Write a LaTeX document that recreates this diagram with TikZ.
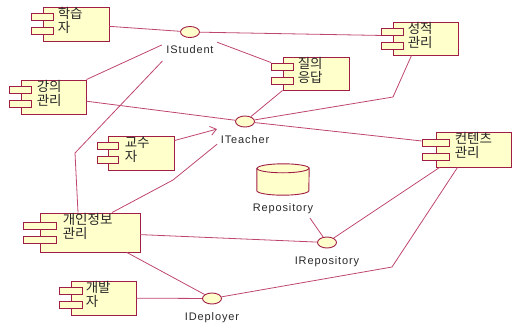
\documentclass[tikz,border=0pt]{standalone}
\usepackage{fontspec}
\setmainfont{Liberation Sans}
\newfontfamily\kr{Noto Sans CJK KR}
\usetikzlibrary{shapes.geometric,arrows.meta,positioning}

\definecolor{compfill}{RGB}{255,255,204}
\definecolor{compline}{RGB}{160,30,70}
\definecolor{connline}{RGB}{190,70,110}
\definecolor{txtcol}{RGB}{40,40,40}

\begin{document}
\begin{tikzpicture}[
    x=1pt, y=-1pt,
    comp/.style={rectangle, draw=compline, fill=compfill, line width=0.9pt, inner sep=0pt},
    comptab/.style={rectangle, draw=compline, fill=compfill, line width=0.9pt, inner sep=0pt, minimum height=7pt},
    comptext/.style={anchor=north west, inner sep=0pt, align=left, text=txtcol, font=\kr\fontsize{13.5}{14}\selectfont},
    iface/.style={ellipse, draw=compline, fill=compfill, line width=0.9pt, inner sep=0pt, minimum width=19pt, minimum height=11pt},
    ifacelabel/.style={inner sep=0pt, text height=8pt, text depth=2.5pt, text=txtcol, font=\fontsize{11}{13}\selectfont\addfontfeature{LetterSpace=8}},
    repobox/.style={rectangle, inner sep=0pt, minimum width=52pt, minimum height=31pt},
    cyl/.style={draw=compline, fill=compfill, line width=0.9pt},
    conn/.style={draw=connline, line width=0.8pt},
    arrow/.style={conn, -{Straight Barb[length=6pt,width=9pt]}}
]
\useasboundingbox (0,0) rectangle (514,327);

% Components
\node[comp, minimum width=66pt, minimum height=34pt] (student) at (76,24) {};
\node[comp, minimum width=65pt, minimum height=34pt] (lecture) at (53.5,97) {};
\node[comp, minimum width=65pt, minimum height=33pt] (grade) at (425.5,38.5) {};
\node[comp, minimum width=66pt, minimum height=33pt] (qna) at (316,73.5) {};
\node[comp, minimum width=66pt, minimum height=34pt] (prof) at (141,153) {};
\node[comp, minimum width=75pt, minimum height=35pt] (content) at (473.5,149.5) {};
\node[comp, minimum width=100pt, minimum height=39pt] (personal) at (90,232.5) {};
\node[comp, minimum width=65pt, minimum height=34pt] (dev) at (103.5,298) {};

% Component tabs
\foreach \n/\w in {student/22, lecture/22, grade/22, qna/22, prof/21, content/27, personal/33, dev/23} {
  \node[comptab, minimum width=\w pt] (\n-t1) at ([yshift=7pt]\n.west) {};
  \node[comptab, minimum width=\w pt] (\n-t2) at ([yshift=-7pt]\n.west) {};
}

% Component names
\node[comptext] (student-txt) at ([xshift=15pt,yshift=-1pt]student.north west) {학습\\자};
\node[comptext] (lecture-txt) at ([xshift=16pt,yshift=-1pt]lecture.north west) {강의\\관리};
\node[comptext] (grade-txt) at ([xshift=15pt,yshift=-1pt]grade.north west) {성적\\관리};
\node[comptext] (qna-txt) at ([xshift=15pt,yshift=-1pt]qna.north west) {질의\\응답};
\node[comptext] (prof-txt) at ([xshift=17pt,yshift=-1pt]prof.north west) {교수\\자};
\node[comptext] (content-txt) at ([xshift=19pt,yshift=-1pt]content.north west) {컨텐츠\\관리};
\node[comptext] (personal-txt) at ([xshift=23pt,yshift=-1pt]personal.north west) {개인정보\\관리};
\node[comptext] (dev-txt) at ([xshift=15pt,yshift=-1pt]dev.north west) {개발\\자};

% Interfaces
\node[iface] (istudent) at (190,32) {};
\node[ifacelabel, below=7.5pt of istudent] (istudent-lbl) {IStudent};
\node[iface] (iteacher) at (245,121.5) {};
\node[ifacelabel, below=7.5pt of iteacher] (iteacher-lbl) {ITeacher};
\node[iface] (irepo) at (327,242.5) {};
\node[ifacelabel, below=7.5pt of irepo] (irepo-lbl) {IRepository};
\node[iface] (ideploy) at (212,298.5) {};
\node[ifacelabel, below=7.5pt of ideploy] (ideploy-lbl) {IDeployer};

% Repository
\node[repobox] (repo) at (283,179.5) {};
\draw[cyl] ([yshift=-4.5pt]repo.north west) -- ([yshift=4.5pt]repo.south west)
  arc[start angle=180, end angle=360, x radius=26pt, y radius=4.5pt]
  -- ([yshift=-4.5pt]repo.north east)
  arc[start angle=0, end angle=180, x radius=26pt, y radius=4.5pt] -- cycle;
\draw[cyl, fill=none] ([yshift=-4.5pt]repo.north west)
  arc[start angle=180, end angle=360, x radius=26pt, y radius=4.5pt];
\node[ifacelabel, below=8.5pt of repo] (repo-lbl) {Repository};

% IStudent links
\draw[conn] (student) -- (istudent);
\draw[conn] (istudent) -- (grade-t1.south west);
\draw[conn, shorten >=29pt] (qna-t1.north west) -- (istudent.center);
\draw[conn, shorten >=31pt] (lecture.north east) -- (istudent.center);
\coordinate (personal-bend1) at (75,153);
\draw[conn, shorten >=40pt] ([xshift=-12pt]personal.north) -- (personal-bend1) -- (istudent.center);

% ITeacher links
\draw[conn] (lecture) -- (iteacher);
\draw[conn] (qna.south west) -- (iteacher);
\coordinate (grade-bend) at (393,97);
\draw[conn] ([xshift=-14pt]grade.south) -- (grade-bend) -- (iteacher);
\draw[conn] (iteacher) -- (content-t1);
\draw[arrow, shorten >=29pt] ([yshift=-5pt]prof.north east) -- (iteacher.center);
\coordinate (personal-bend2) at (173,180);
\draw[conn, shorten >=36pt] ([xshift=22pt]personal.north) -- (personal-bend2) -- (iteacher.center);

% IRepository links
\draw[conn] (personal) -- (irepo);
\draw[conn, shorten <=47pt] (repo.center) -- (irepo);
\draw[conn] ([xshift=4pt]content.south west) -- (irepo);

% IDeployer links
\draw[conn] (dev) -- (ideploy);
\draw[conn] (personal) -- (ideploy);
\coordinate (content-bend) at (392,267);
\draw[conn] ([xshift=-16pt]content.south) -- (content-bend) -- (ideploy);

\end{tikzpicture}
\end{document}
